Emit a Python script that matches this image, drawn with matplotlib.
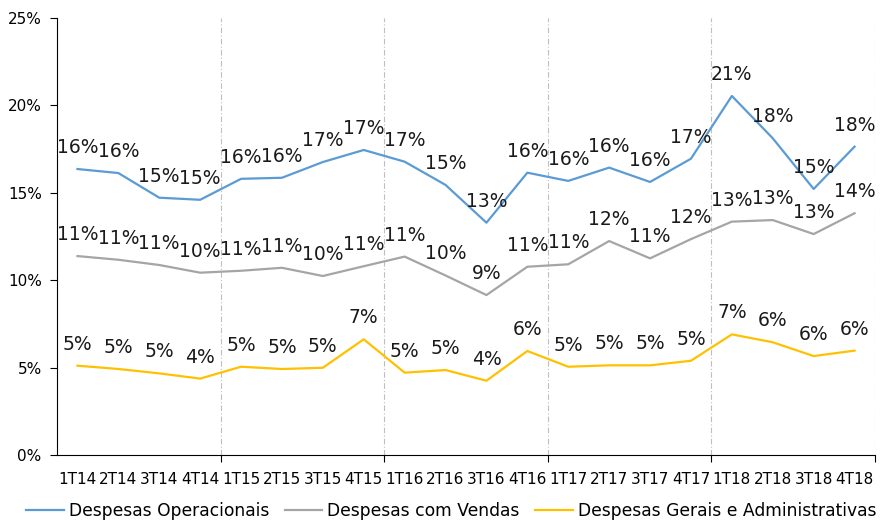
import matplotlib
matplotlib.use('Agg')
import matplotlib.pyplot as plt
import matplotlib.ticker as mtick
import numpy as np

quarters = ['1T14', '2T14', '3T14', '4T14', '1T15', '2T15', '3T15', '4T15',
            '1T16', '2T16', '3T16', '4T16', '1T17', '2T17', '3T17', '4T17',
            '1T18', '2T18', '3T18', '4T18']
operacionais = [16.36, 16.13, 14.72, 14.60, 15.80, 15.86, 16.76, 17.45,
                16.78, 15.45, 13.29, 16.15, 15.68, 16.44, 15.62, 16.95,
                20.54, 18.12, 15.22, 17.64]
vendas = [11.38, 11.17, 10.87, 10.43, 10.54, 10.71, 10.24, 10.80,
          11.35, 10.27, 9.15, 10.77, 10.91, 12.24, 11.25, 12.35,
          13.35, 13.44, 12.64, 13.83]
gerais = [5.11, 4.92, 4.67, 4.37, 5.05, 4.92, 4.99, 6.62,
          4.71, 4.86, 4.25, 5.95, 5.05, 5.13, 5.13, 5.39,
          6.90, 6.45, 5.66, 5.97]

series = [('Despesas Operacionais', operacionais, '#5B9BD5'),
          ('Despesas com Vendas', vendas, '#A5A5A5'),
          ('Despesas Gerais e Administrativas', gerais, '#FFC000')]

fig = plt.figure(figsize=(8.87, 5.22), dpi=100)
ax = fig.add_axes([57/887, 67/522, 818/887, 437/522])

x = np.arange(len(quarters))
for name, vals, col in series:
    ax.plot(x, vals, color=col, linewidth=1.6, label=name)
    for xi, v in zip(x, vals):
        ax.annotate('%d%%' % int(np.floor(v + 0.5)), (xi, v), xytext=(0, 15.5),
                    textcoords='offset points', ha='center', va='center',
                    fontsize=13.5, color='#1a1a1a')

# year separators
for b in [3.5, 7.5, 11.5, 15.5, 19.5]:
    ax.axvline(b, color='#BFBFBF', linewidth=0.8, linestyle=(0, (5, 2, 1, 2)), zorder=0)

ax.set_xlim(-0.5, 19.5)
ax.set_ylim(0, 25)
ax.yaxis.set_major_locator(mtick.MultipleLocator(5))
ax.yaxis.set_major_formatter(mtick.PercentFormatter(100, decimals=0))

ax.set_xticks([3.5, 7.5, 11.5, 15.5, 19.5])
ax.set_xticklabels([])
ax.set_xticks(x, minor=True)
ax.set_xticklabels(quarters, minor=True)
ax.tick_params(axis='x', which='major', direction='out', length=5, width=0.8)
ax.tick_params(axis='x', which='minor', length=0, pad=12, labelsize=11)
ax.tick_params(axis='y', direction='out', length=5, width=0.8, labelsize=11, pad=6)

ax.spines['top'].set_visible(False)
ax.spines['right'].set_visible(False)

ax.legend(loc='upper center', bbox_to_anchor=(0.482, -0.093), ncol=3, frameon=False,
          fontsize=12.3, handlelength=2.2, handletextpad=0.3, columnspacing=0.9,
          borderaxespad=0)

fig.savefig('out.png', dpi=100)
